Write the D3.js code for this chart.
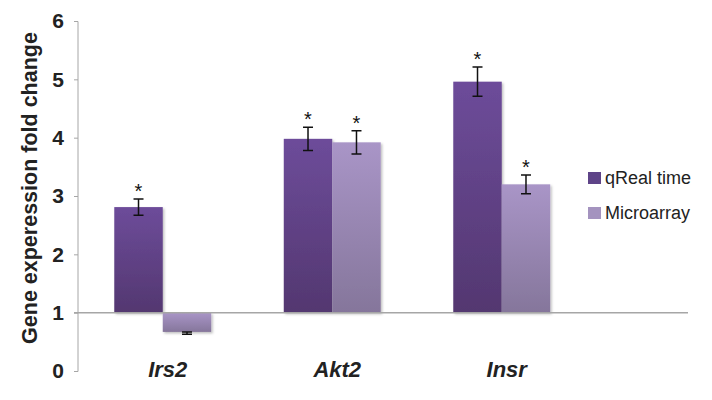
<!DOCTYPE html>
<html>
<head>
<meta charset="utf-8">
<script src="https://cdn.jsdelivr.net/npm/d3@7"></script>
<style>
  body { margin: 0; background: #fff; }
  text { font-family: "Liberation Sans", Arial, sans-serif; }
</style>
</head>
<body>
<div id="chart"></div>
<script>
// data
var genes = ["Irs2", "Akt2", "Insr"];
var series = ["qReal time", "Microarray"];
var qReal = [2.81, 3.98, 4.96];
var qRealErr = [0.14, 0.20, 0.25];
var micro = [0.67, 3.92, 3.20];
var microErr = [0.04, 0.20, 0.16];
var yTicks = [0, 1, 2, 3, 4, 5, 6];

var values = [qReal, micro];
var errs = [qRealErr, microErr];

var W = 712, H = 400;
var svg = d3.select("#chart").append("svg")
    .attr("width", W)
    .attr("height", H);

var y = d3.scaleLinear().domain([0, 6]).range([371, 21]);
var x = d3.scaleBand().domain(genes).range([78, 586.5])
    .paddingInner(0.428).paddingOuter(0.214);
var xs = d3.scaleBand().domain(series).range([0, x.bandwidth()]);

// gradients for the bars
var defs = svg.append("defs");
var grads = [["gq", "#6d4c9a", "#533770"], ["gm", "#a995c7", "#85769b"]];
grads.forEach(function(g) {
  var lg = defs.append("linearGradient").attr("id", g[0])
      .attr("x1", 0).attr("y1", 0).attr("x2", 0).attr("y2", 1);
  lg.append("stop").attr("offset", "0%").attr("stop-color", g[1]);
  lg.append("stop").attr("offset", "100%").attr("stop-color", g[2]);
});
var shadow = defs.append("filter").attr("id", "sh")
    .attr("x", "-10%").attr("y", "-10%").attr("width", "130%").attr("height", "130%");
shadow.append("feDropShadow").attr("dx", 1.5).attr("dy", 1.5)
    .attr("stdDeviation", 1.2).attr("flood-color", "#000").attr("flood-opacity", 0.25);

// y axis
var yAxis = d3.axisLeft(y).tickValues(yTicks).tickSize(4).tickPadding(10)
    .tickFormat(d3.format("d"));
var gy = svg.append("g").attr("transform", "translate(78,0)").call(yAxis);
gy.select(".domain").attr("stroke", "#a6a6a6").attr("d", "M-4,21.5H0V371.5H-4");
gy.selectAll(".tick line").attr("stroke", "#a6a6a6");
gy.selectAll(".tick text")
    .attr("fill", "#222")
    .style("font-size", "21px")
    .style("font-weight", "bold");

svg.append("text")
    .attr("transform", "translate(37,188) rotate(-90)")
    .attr("text-anchor", "middle")
    .style("font-size", "21.5px")
    .style("font-weight", "bold")
    .attr("fill", "#222")
    .text("Gene experession fold change");

// bars
var fills = ["url(#gq)", "url(#gm)"];
series.forEach(function(s, si) {
  svg.append("g").selectAll("rect")
    .data(genes)
    .enter().append("rect")
      .attr("x", function(d) { return x(d) + xs(s); })
      .attr("width", xs.bandwidth())
      .attr("y", function(d, i) { return y(Math.max(1, values[si][i])); })
      .attr("height", function(d, i) { return Math.abs(y(values[si][i]) - y(1)); })
      .attr("fill", fills[si])
      .attr("filter", "url(#sh)");
});

// baseline at 1
svg.append("line")
    .attr("x1", 74).attr("x2", 688)
    .attr("y1", y(1)).attr("y2", y(1))
    .attr("stroke", "#a6a6a6").attr("stroke-width", 1.5);

// error bars and stars
series.forEach(function(s, si) {
  var g = svg.append("g");
  genes.forEach(function(d, i) {
    var cx = x(d) + xs(s) + xs.bandwidth() / 2;
    var v = values[si][i], e = errs[si][i];
    var top = y(v + e), bot = y(v - e);
    if (v < 1) top = y(v);
    g.append("path")
      .attr("d", "M" + (cx - 5) + "," + top + "H" + (cx + 5) +
                 "M" + cx + "," + top + "V" + bot +
                 "M" + (cx - 5) + "," + bot + "H" + (cx + 5))
      .attr("stroke", "#111").attr("stroke-width", 1.5).attr("fill", "none");
    if (v > 1) {
      g.append("text")
        .attr("x", cx).attr("y", y(v + e) - 1)
        .attr("text-anchor", "middle")
        .style("font-size", "20px")
        .attr("fill", "#111")
        .text("*");
    }
  });
});

// x labels
svg.append("g").selectAll("text")
  .data(genes)
  .enter().append("text")
    .attr("x", function(d) { return x(d) + x.bandwidth() / 2 + 5; })
    .attr("y", 377)
    .attr("text-anchor", "middle")
    .style("font-size", "22px")
    .style("font-weight", "bold")
    .style("font-style", "italic")
    .attr("fill", "#222")
    .text(function(d) { return d; });

// legend
var legCol = ["#5e4488", "#a493bf"];
var leg = svg.append("g").attr("transform", "translate(588,172)");
series.forEach(function(s, si) {
  var row = leg.append("g").attr("transform", "translate(0," + si * 35 + ")");
  row.append("rect").attr("width", 13).attr("height", 12).attr("fill", legCol[si]);
  row.append("text").attr("x", 17).attr("y", 12)
    .style("font-size", "18px").attr("fill", "#222").text(s);
});
</script>
</body>
</html>
